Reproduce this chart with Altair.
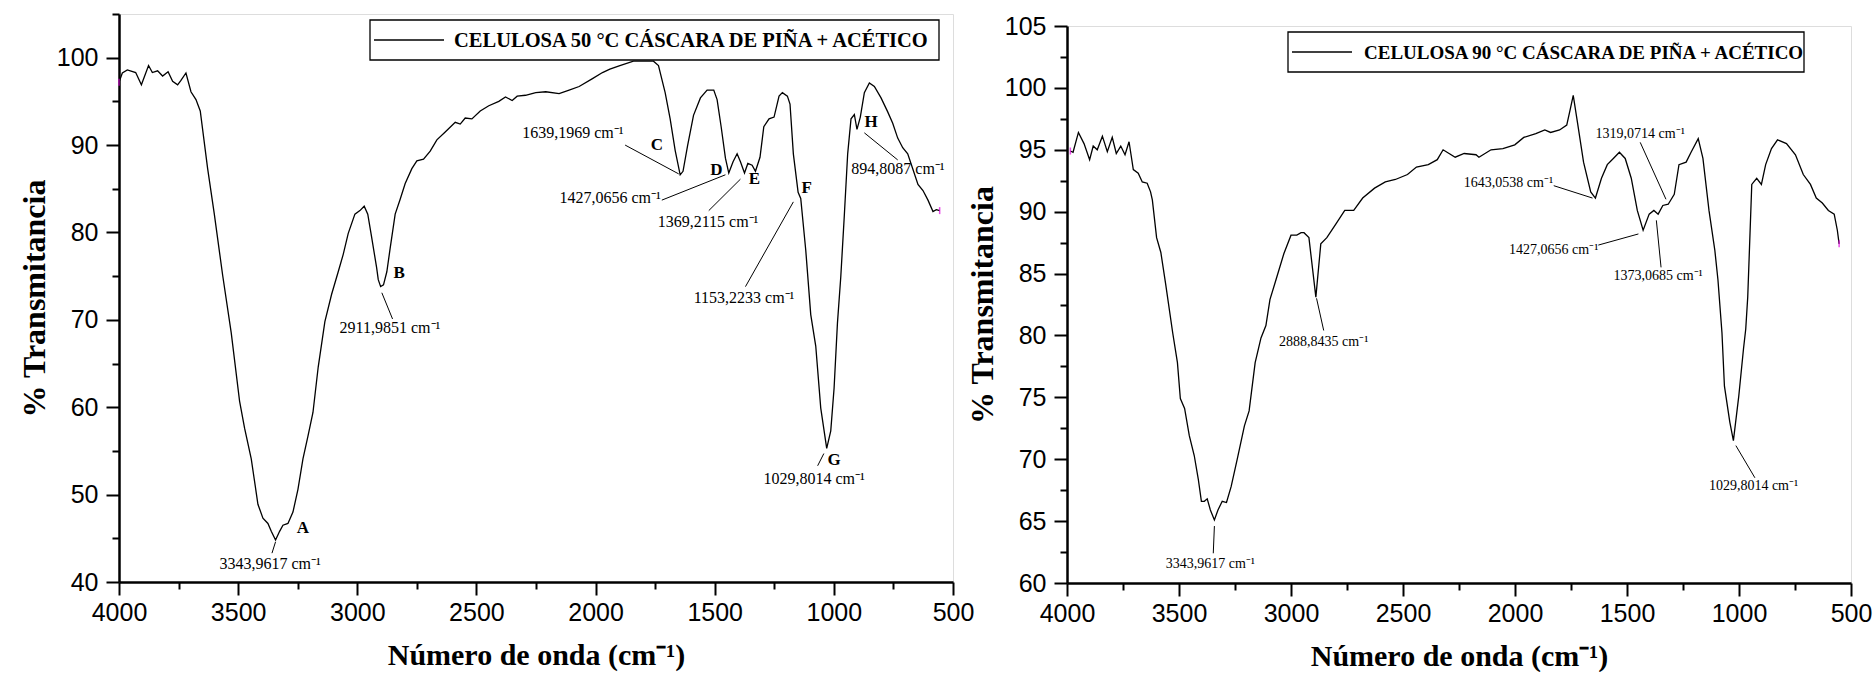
import altair as alt
import pandas as pd

# ---------------- data: CELULOSA 50 °C ----------------
wn_50 = [4000, 3986, 3965, 3930, 3906, 3876, 3860, 3838, 3817, 3794, 3775, 3754, 3740, 3719, 3698,
         3677, 3659, 3628, 3600, 3565, 3529, 3494, 3473, 3445, 3417, 3396, 3375, 3361, 3343, 3326,
         3312, 3291, 3270, 3249, 3228, 3207, 3186, 3164, 3136, 3108, 3080, 3059, 3038, 3010, 2989,
         2971, 2956, 2940, 2919, 2912, 2902, 2890, 2876, 2862, 2841, 2820, 2799, 2771, 2750, 2722,
         2694, 2666, 2631, 2589, 2568, 2547, 2519, 2484, 2448, 2406, 2378, 2350, 2329, 2294, 2251,
         2209, 2153, 2111, 2069, 2013, 1971, 1940, 1898, 1841, 1757, 1736, 1708, 1687, 1666, 1645,
         1633, 1614, 1589, 1560, 1532, 1504, 1490, 1473, 1455, 1441, 1423, 1406, 1392, 1375, 1361,
         1343, 1329, 1310, 1294, 1272, 1251, 1230, 1216, 1195, 1184, 1170, 1150, 1139, 1118, 1097,
         1076, 1055, 1030, 1013, 999, 985, 971, 956, 942, 928, 914, 903, 889, 872, 851,
         830, 802, 774, 753, 732, 711, 690, 669, 647, 626, 605, 584, 570, 556]
t_50 = [97.2, 98.25, 98.6, 98.3, 96.9, 99.1, 98.3, 98.5, 97.9, 98.4, 97.3, 96.9, 97.4, 98.25, 96.1,
        95.2, 93.9, 87.3, 82.1, 75.1, 68.5, 60.7, 57.6, 54.1, 48.9, 47.3, 46.7, 45.8, 44.8, 45.8,
        46.5, 46.7, 48.0, 50.6, 54.1, 56.7, 59.4, 64.6, 69.8, 72.9, 75.5, 77.5, 79.9, 82.1, 82.5,
        83.0, 82.1, 79.5, 76.0, 74.6, 73.8, 74.0, 75.5, 78.2, 82.1, 83.8, 85.6, 87.3, 88.2, 88.4,
        89.3, 90.6, 91.5, 92.6, 92.4, 93.1, 93.0, 93.9, 94.5, 95.0, 95.5, 95.1, 95.6, 95.7, 96.0,
        96.1, 95.9, 96.3, 96.7, 97.6, 98.3, 98.7, 99.1, 99.6, 99.6, 99.1, 96.0, 93.0, 89.4, 86.6,
        87.0, 89.9, 93.4, 95.4, 96.3, 96.3, 95.2, 92.1, 88.5, 86.8, 88.1, 89.0, 88.1, 86.8, 87.9,
        87.7, 87.0, 88.6, 92.1, 93.0, 93.2, 95.6, 96.0, 95.6, 94.7, 89.0, 84.6, 83.9, 78.0, 70.6,
        67.0, 59.9, 55.3, 57.3, 62.2, 69.6, 74.9, 82.0, 89.0, 93.0, 93.5, 91.8, 93.2, 96.0, 97.1,
        96.7, 95.4, 93.8, 92.5, 90.8, 89.7, 89.0, 87.3, 85.5, 84.8, 83.7, 82.4, 82.6, 82.5]
legend_50 = "CELULOSA 50 °C CÁSCARA DE PIÑA + ACÉTICO"

ann_50_txt = ["3343,9617 cm⁻¹", "2911,9851 cm⁻¹", "1639,1969 cm⁻¹", "1427,0656 cm⁻¹",
              "1369,2115 cm⁻¹", "1153,2233 cm⁻¹", "1029,8014 cm⁻¹", "894,8087 cm⁻¹"]
ann_50_x = [3366, 2863, 2095, 1939, 1528, 1377, 1083, 731]
ann_50_y = [42.1, 69.1, 91.4, 83.9, 81.2, 72.5, 51.8, 87.3]
let_50_txt = ["A", "B", "C", "D", "E", "F", "G", "H"]
let_50_x = [3228, 2824, 1743, 1493, 1333, 1114, 999, 844]
let_50_y = [46.2, 75.4, 90.0, 87.2, 86.1, 85.1, 54.0, 92.6]
ld_50_x1 = [3343, 2897, 1876, 1722, 1525, 1371, 1042, 872]
ld_50_y1 = [44.6, 73.1, 90.0, 83.7, 82.5, 73.8, 54.7, 91.4]
ld_50_x2 = [3358, 2852, 1651, 1455, 1392, 1170, 1068, 732]
ld_50_y2 = [43.3, 70.1, 86.7, 86.6, 86.1, 83.5, 53.3, 88.3]

# ---------------- data: CELULOSA 90 °C ----------------
wn_90 = [3985, 3973, 3949, 3924, 3899, 3883, 3865, 3842, 3820, 3798, 3780, 3760, 3741, 3723, 3704,
         3682, 3664, 3642, 3627, 3619, 3600, 3581, 3560, 3528, 3507, 3494, 3475, 3454, 3432, 3414,
         3400, 3387, 3374, 3360, 3342, 3326, 3307, 3288, 3267, 3240, 3208, 3187, 3160, 3134, 3112,
         3094, 3067, 3032, 3000, 2974, 2955, 2942, 2920, 2889, 2867, 2840, 2800, 2760, 2720, 2680,
         2627, 2579, 2534, 2480, 2440, 2387, 2347, 2321, 2267, 2227, 2174, 2161, 2107, 2054, 2001,
         1961, 1907, 1867, 1841, 1801, 1769, 1753, 1740, 1721, 1694, 1662, 1641, 1614, 1588, 1561,
         1534, 1508, 1481, 1454, 1428, 1401, 1380, 1361, 1340, 1316, 1289, 1268, 1236, 1214, 1182,
         1161, 1134, 1108, 1094, 1076, 1065, 1041, 1025, 1001, 980, 970, 961, 943, 921, 900,
         881, 855, 828, 788, 748, 713, 681, 655, 628, 601, 575, 561, 553]
t_90 = [94.9, 94.8, 96.4, 95.5, 94.2, 95.3, 95.0, 96.1, 94.85, 96.0, 94.7, 95.3, 94.6, 95.65, 93.4,
        93.1, 92.4, 92.3, 91.6, 90.95, 87.9, 86.7, 84.2, 80.2, 77.8, 74.9, 74.1, 71.9, 70.3, 68.4,
        66.6, 66.6, 66.8, 65.9, 65.1, 65.9, 66.6, 66.5, 67.8, 70.0, 72.7, 73.9, 77.8, 79.8, 80.8,
        82.9, 84.5, 86.6, 88.1, 88.1, 88.3, 88.3, 87.9, 83.1, 87.4, 87.9, 89.0, 90.1, 90.1, 91.1,
        91.9, 92.4, 92.6, 93.0, 93.6, 93.8, 94.2, 95.0, 94.4, 94.7, 94.6, 94.4, 95.0, 95.1, 95.4,
        96.0, 96.3, 96.6, 96.4, 96.6, 97.0, 98.3, 99.4, 97.2, 94.0, 91.6, 91.1, 92.7, 93.8, 94.3,
        94.8, 94.3, 92.7, 90.1, 88.5, 89.8, 90.1, 89.8, 90.5, 90.6, 91.4, 93.8, 94.0, 94.8, 95.9,
        94.3, 90.1, 86.9, 84.5, 80.2, 75.9, 73.0, 71.5, 75.1, 78.9, 80.5, 83.1, 92.2, 92.7, 92.2,
        93.8, 95.1, 95.8, 95.5, 94.6, 93.0, 92.2, 91.1, 90.7, 90.1, 89.8, 88.5, 87.4]
legend_90 = "CELULOSA 90 °C  CÁSCARA DE PIÑA + ACÉTICO"

ann_90_txt = ["3343,9617 cm⁻¹", "2888,8435 cm⁻¹", "1643,0538 cm⁻¹", "1319,0714 cm⁻¹",
              "1427,0656 cm⁻¹", "1373,0685 cm⁻¹", "1029,8014 cm⁻¹"]
ann_90_x = [3360, 2854, 2029, 1441, 1827, 1361, 935]
ann_90_y = [61.5, 79.5, 92.3, 96.3, 86.9, 84.8, 67.8]
ld_90_x1 = [3342, 2886, 1827, 1441, 1628, 1369, 1014]
ld_90_y1 = [64.6, 83.0, 92.1, 95.6, 87.3, 89.3, 71.1]
ld_90_x2 = [3347, 2854, 1654, 1326, 1449, 1348, 929]
ld_90_y2 = [62.4, 80.4, 91.1, 91.0, 88.2, 85.5, 68.5]

# ---------------- axes ticks ----------------
x_major = [4000, 3500, 3000, 2500, 2000, 1500, 1000, 500]
x_minor = [3750, 3250, 2750, 2250, 1750, 1250, 750]
y_major_50 = [40, 50, 60, 70, 80, 90, 100]
y_minor_50 = [45, 55, 65, 75, 85, 95, 105]
y_major_90 = [60, 65, 70, 75, 80, 85, 90, 95, 100, 105]
y_minor_90 = [62.5, 67.5, 72.5, 77.5, 82.5, 87.5, 92.5, 97.5, 102.5]

SERIF = "Liberation Serif"
SANS = "Liberation Sans"


def panel(wn, t, label, ydom, ymaj, ymin, w, h, box, lfs,
          ann_txt, ann_x, ann_y, ann_fs, let_txt, let_x, let_y,
          ld_x1, ld_y1, ld_x2, ld_y2):
    xs = alt.Scale(domain=[500, 4000], reverse=True, nice=False, zero=False)
    ys = alt.Scale(domain=ydom, nice=False, zero=False)
    common = dict(domainColor="black", domainWidth=2.5, tickColor="black", tickWidth=2, grid=False)

    x_ax = alt.Axis(values=x_major, tickSize=13, labelFont=SANS, labelFontSize=25, labelPadding=5,
                    labelFlush=False, labelOverlap=False, labelColor="black", format="d",
                    title="Número de onda (cm⁻¹)", titleFont=SERIF, titleFontWeight="bold",
                    titleFontSize=30, titlePadding=15, titleColor="black", **common)
    y_ax = alt.Axis(values=ymaj, tickSize=13, labelFont=SANS, labelFontSize=25, labelPadding=8,
                    labelOverlap=False, labelColor="black", format="d",
                    title="% Transmitancia", titleFont=SERIF, titleFontWeight="bold",
                    titleFontSize=32, titlePadding=5, titleColor="black", **common)
    x_min_ax = alt.Axis(values=x_minor, tickSize=7, labels=False, domain=False, title=None,
                        orient="bottom", tickColor="black", tickWidth=2, grid=False)
    y_min_ax = alt.Axis(values=ymin, tickSize=7, labels=False, domain=False, title=None,
                        orient="left", tickColor="black", tickWidth=2, grid=False)

    df = pd.DataFrame({"wn": wn, "t": t})
    line = alt.Chart(df).mark_line(color="black", strokeWidth=1.3, clip=True).encode(
        x=alt.X("wn:Q", scale=xs, axis=x_ax),
        y=alt.Y("t:Q", scale=ys, axis=y_ax),
        order="idx:Q",
    ).transform_window(idx="row_number()")

    ld = pd.DataFrame({"x1": ld_x1, "y1": ld_y1, "x2": ld_x2, "y2": ld_y2})
    rules = alt.Chart(ld).mark_rule(color="black", strokeWidth=1).encode(
        x=alt.X("x1:Q", scale=xs, axis=x_min_ax),
        y=alt.Y("y1:Q", scale=ys, axis=y_min_ax),
        x2="x2:Q", y2="y2:Q",
    )

    an = pd.DataFrame({"x": ann_x, "y": ann_y, "txt": ann_txt})
    texts = alt.Chart(an).mark_text(font=SERIF, fontSize=ann_fs, color="black",
                                    align="center", baseline="middle").encode(
        x=alt.X("x:Q", scale=xs, axis=None),
        y=alt.Y("y:Q", scale=ys, axis=None),
        text="txt:N",
    )

    ends = pd.DataFrame({"wn": [wn[0], wn[-1]], "t": [t[0], t[-1]]})
    marks_end = alt.Chart(ends).mark_tick(color="#e000e0", size=7, thickness=1.5,
                                          orient="vertical").encode(
        x=alt.X("wn:Q", scale=xs, axis=None),
        y=alt.Y("t:Q", scale=ys, axis=None),
    )

    # legend box (line sample + series name), placed in the upper right of the plot
    bx1, bx2, by1, by2, sx1, sx2, tx = box
    ymid = (by1 + by2) / 2
    lg = pd.DataFrame({"serie": [label]})
    lg_box = alt.Chart(lg).mark_rect(fill="white", stroke="black", strokeWidth=1.3).encode(
        x=alt.value(bx1), x2=alt.value(bx2), y=alt.value(by1), y2=alt.value(by2))
    lg_line = alt.Chart(lg).mark_rule(color="black", strokeWidth=1.3).encode(
        x=alt.value(sx1), x2=alt.value(sx2), y=alt.value(ymid))
    lg_text = alt.Chart(lg).mark_text(font=SERIF, fontWeight="bold", fontSize=lfs, color="black",
                                      align="left", baseline="middle").encode(
        x=alt.value(tx), y=alt.value(ymid + 1), text="serie:N")

    layers = [line, rules, texts, marks_end]
    if let_txt:
        le = pd.DataFrame({"x": let_x, "y": let_y, "txt": let_txt})
        letters = alt.Chart(le).mark_text(font=SERIF, fontSize=17, fontWeight="bold",
                                          color="black", align="center",
                                          baseline="middle").encode(
            x=alt.X("x:Q", scale=xs, axis=None),
            y=alt.Y("y:Q", scale=ys, axis=None),
            text="txt:N",
        )
        layers.append(letters)
    layers += [lg_box, lg_line, lg_text]

    return alt.layer(*layers).resolve_axis(x="independent", y="independent").properties(
        width=w, height=h)


p50 = panel(wn_50, t_50, legend_50, [40, 105], y_major_50, y_minor_50, 834, 568,
            (251, 820, 6, 46, 255, 325, 335), 20.5,
            ann_50_txt, ann_50_x, ann_50_y, 16, let_50_txt, let_50_x, let_50_y,
            ld_50_x1, ld_50_y1, ld_50_x2, ld_50_y2)
p90 = panel(wn_90, t_90, legend_90, [60, 105], y_major_90, y_minor_90, 784, 557,
            (221, 737, 6, 46, 225, 285, 297), 19,
            ann_90_txt, ann_90_x, ann_90_y, 14, [], [], [],
            ld_90_x1, ld_90_y1, ld_90_x2, ld_90_y2)

# empty strip above the right panel so that its frame starts a little lower
spacer = alt.Chart(pd.DataFrame({"a": [0]})).mark_point(opacity=0).encode(
    x=alt.value(0), y=alt.value(0)
).properties(width=784, height=1, view=alt.ViewBackground(stroke=None, fill=None))

right = alt.vconcat(spacer, p90, spacing=-4)

chart = alt.hconcat(p50, right, spacing=-10).properties(
    padding={"left": 17, "top": 11, "right": 0, "bottom": 0}
).configure_view(stroke="black", strokeWidth=2.5).configure(background="white")

chart.save("out.html", embed_options={"renderer": "svg", "actions": False})
